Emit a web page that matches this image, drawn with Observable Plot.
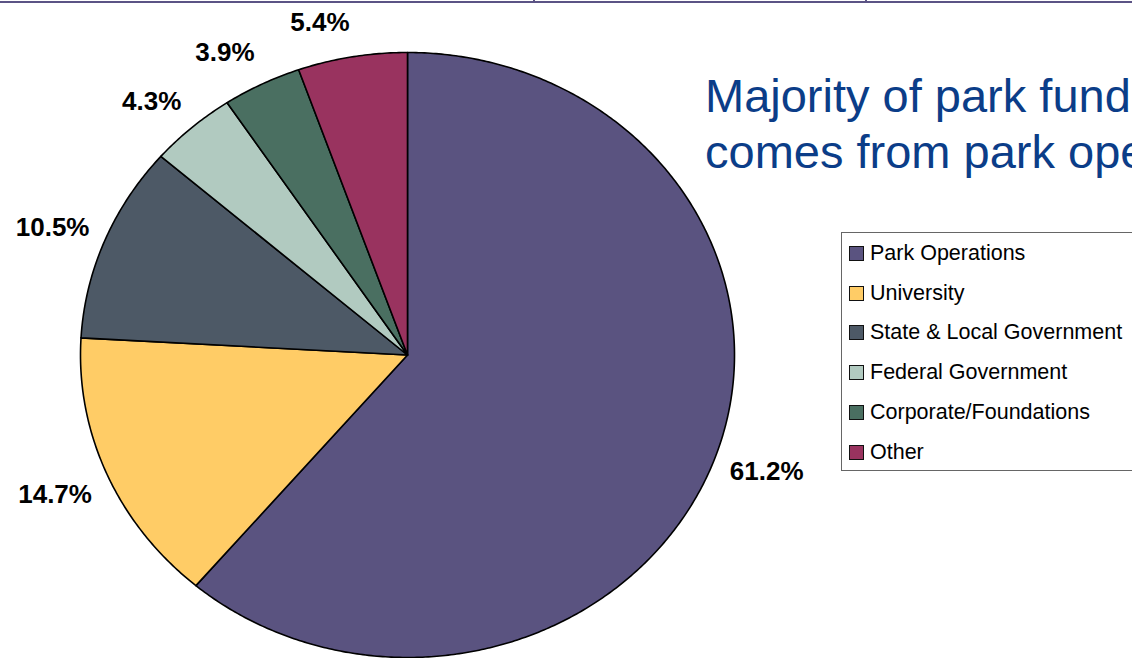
<!DOCTYPE html>
<html>
<head>
<meta charset="utf-8">
<script src="https://cdn.jsdelivr.net/npm/d3@7"></script>
<script src="https://cdn.jsdelivr.net/npm/@observablehq/plot@0.6"></script>
<style>
  html, body { margin: 0; padding: 0; background: #fff; overflow: hidden; }
  body { width: 1132px; height: 658px; position: relative; font-family: "Liberation Sans", Arial, sans-serif; }
  #topline { position: absolute; left: 0; top: 1px; width: 1132px; height: 0; border-top: 2px solid #5B5385; }
  .tick { position: absolute; top: 0; width: 2px; height: 3px; background: #5B5385; }
  #chart { position: absolute; left: 0; top: 0; }
  #title { position: absolute; left: 705px; top: 68px; color: #0B3D88; font-size: 47px; line-height: 56px; white-space: nowrap; }
  #legend { position: absolute; left: 841px; top: 232px; width: 300px; height: 239px; border: 1.5px solid #666; background: #fff; box-sizing: border-box; }
  .item { position: absolute; left: 7px; height: 24px; display: flex; align-items: center; font-size: 21.5px; color: #000; white-space: nowrap; }
  .sw { width: 13px; height: 13px; border: 1px solid #111; margin-right: 6px; flex: none; }
</style>
</head>
<body>
<div id="topline"></div>
<div class="tick" style="left:533px"></div>
<div class="tick" style="left:865px"></div>
<div id="chart"></div>
<div id="title">Majority of park funding<br>comes from park operations</div>
<div id="legend"></div>
<script>
const categories = ["Park Operations", "University", "State & Local Government", "Federal Government", "Corporate/Foundations", "Other"];
const shares = [61.2, 14.7, 10.5, 4.3, 3.9, 5.4];
const colors = ["#5A5380", "#FFCC66", "#4D5966", "#B1CAC0", "#4A6F61", "#99335F"];

// Build slices (clockwise from 12 o'clock)
const total = d3.sum(shares);
let acc = 0;
const slices = categories.map((name, i) => {
  const a0 = acc / total * 2 * Math.PI;
  acc += shares[i];
  const a1 = acc / total * 2 * Math.PI;
  return {name, value: shares[i], a0, a1, mid: (a0 + a1) / 2};
});

const pts = [];
for (const s of slices) {
  pts.push({name: s.name, x: 0, y: 0});
  const n = Math.max(4, Math.ceil((s.a1 - s.a0) / (Math.PI / 360)));
  for (let k = 0; k <= n; k++) {
    const a = s.a0 + (s.a1 - s.a0) * k / n;
    pts.push({name: s.name, x: Math.sin(a), y: Math.cos(a)});
  }
}

const labels = slices.map(s => ({
  text: s.value.toFixed(1) + "%",
  x: Math.sin(s.mid) * 1.05,
  y: Math.cos(s.mid) * (Math.cos(s.mid) < 0 && Math.sin(s.mid) < 0 ? 1.17 : 1.115),
  side: Math.sin(s.mid) >= 0 ? "right" : "left"
}));

const chart = Plot.plot({
  width: 1132,
  height: 658,
  margin: 0,
  x: {domain: [-1, 1], range: [80, 734], axis: null},
  y: {domain: [-1, 1], range: [657, 52], axis: null},
  color: {domain: categories, range: colors},
  style: {background: "transparent", overflow: "visible"},
  marks: [
    Plot.line(pts, {x: "x", y: "y", z: "name", fill: "name", stroke: "#000", strokeWidth: 1.6, curve: "linear-closed", strokeLinejoin: "round"}),
    Plot.text(labels.filter(d => d.side === "left"), {x: "x", y: "y", text: "text", textAnchor: "end", fontSize: 26, fontWeight: "bold", fill: "#000", fontFamily: "Liberation Sans, Arial, sans-serif"}),
    Plot.text(labels.filter(d => d.side === "right"), {x: "x", y: "y", text: "text", textAnchor: "start", fontSize: 26, fontWeight: "bold", fill: "#000", fontFamily: "Liberation Sans, Arial, sans-serif"})
  ]
});
document.getElementById("chart").appendChild(chart);

const legend = document.getElementById("legend");
categories.forEach((c, i) => {
  const it = document.createElement("div");
  it.className = "item";
  it.style.top = (8.5 + i * 39.7) + "px";
  const sw = document.createElement("span");
  sw.className = "sw";
  sw.style.background = colors[i];
  const tx = document.createElement("span");
  tx.textContent = c;
  it.appendChild(sw);
  it.appendChild(tx);
  legend.appendChild(it);
});
</script>
</body>
</html>
